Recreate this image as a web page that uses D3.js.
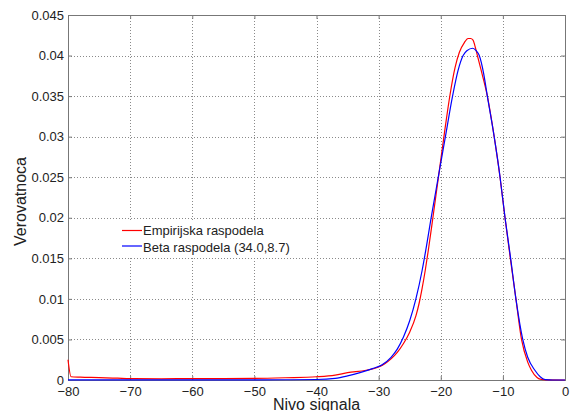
<!DOCTYPE html>
<html>
<head>
<meta charset="utf-8">
<script src="https://cdn.jsdelivr.net/npm/d3@7/dist/d3.min.js"></script>
<style>
  body { margin: 0; background: #fff; }
  svg text { font-family: "Liberation Sans", Arial, Helvetica, sans-serif; fill: #222; }
</style>
</head>
<body>
<div id="viz"></div>
<script>
var empX = [-80, -79.5, -78, -75, -72, -70, -65, -60, -55, -50, -45, -40, -37, -35, -32, -30, -29, -28, -27, -26, -25, -24, -23.5, -23, -22.5, -22, -21.5, -21, -20.25, -19.4, -18.5, -17.7, -17, -16.2, -15.6, -15.2, -14.8, -14.5, -14.1, -13.3, -12.5, -11.4, -10.46, -9.66, -8.8, -7.9, -7, -6, -5.4, -4.5, -4, -3, 0];
var empY = [0.0025, 0.0004, 0.00035, 0.0003, 0.00022, 0.00016, 0.00015, 0.00018, 0.00018, 0.0002, 0.00028, 0.0004, 0.0006, 0.0009, 0.0012, 0.0016, 0.002, 0.0026, 0.0034, 0.0045, 0.0059, 0.0079, 0.0094, 0.0113, 0.0135, 0.016, 0.0187, 0.0215, 0.0257, 0.0305, 0.0352, 0.0385, 0.0404, 0.0416, 0.0421, 0.0421, 0.0419, 0.0412, 0.04, 0.0376, 0.035, 0.03, 0.025, 0.02, 0.015, 0.01, 0.005, 0.0022, 0.0012, 0.0003, 0.0001, 0.00002, 0];

// beta fit (blue)
var betaX = [-80, -70, -60, -50, -45, -40, -37, -35, -33, -31, -29.5, -28, -27, -26, -25, -24, -23, -22.5, -21.5, -20.4, -19.25, -18.1, -17.2, -16.4, -15.8, -14.85, -14.3, -13.8, -13.1, -12.5, -11.4, -10.45, -9.65, -8.75, -7.9, -6.8, -6, -4.85, -4, -3.2, -2, 0];
var betaY = [0.00001, 0.00001, 0.00001, 0.00002, 0.00003, 0.00006, 0.0002, 0.0005, 0.0009, 0.0014, 0.00185, 0.0028, 0.0038, 0.0053, 0.0073, 0.01, 0.0135, 0.0156, 0.0202, 0.025, 0.03, 0.035, 0.0382, 0.04, 0.0406, 0.0409, 0.0406, 0.04, 0.0378, 0.035, 0.03, 0.025, 0.02, 0.015, 0.01, 0.005, 0.0028, 0.0012, 0.0004, 0.00005, 0, 0];

var xTicks = [-80, -70, -60, -50, -40, -30, -20, -10, 0];
var yTicks = [0, 0.005, 0.01, 0.015, 0.02, 0.025, 0.03, 0.035, 0.04, 0.045];
var yTickLabels = ['0', '0.005', '0.01', '0.015', '0.02', '0.025', '0.03', '0.035', '0.04', '0.045'];

var seriesNames = ['Empirijska raspodela', 'Beta raspodela (34.0,8.7)'];
var seriesColors = ['#ff0000', '#0000ff'];

var margin = {top: 15, right: 5, bottom: 31, left: 68},
    W = 570, H = 411,
    width = W - margin.left - margin.right,
    height = H - margin.top - margin.bottom;

var x = d3.scaleLinear().domain([-80, 0]).range([0, width]);
var y = d3.scaleLinear().domain([0, 0.045]).range([height, 0]);

var svg = d3.select('#viz').append('svg')
    .attr('width', W)
    .attr('height', H);

var g = svg.append('g')
    .attr('transform', 'translate(' + margin.left + ',' + margin.top + ')');

// grid
g.append('g').selectAll('line').data(xTicks.slice(1, -1))
  .enter().append('line')
    .attr('x1', function(d) { return Math.round(x(d)) + 0.5; })
    .attr('x2', function(d) { return Math.round(x(d)) + 0.5; })
    .attr('y1', 0).attr('y2', height)
    .attr('stroke', '#8a8a8a').attr('stroke-dasharray', '1,2');

g.append('g').selectAll('line').data(yTicks.slice(1, -1))
  .enter().append('line')
    .attr('y1', function(d) { return Math.round(y(d)) + 0.5; })
    .attr('y2', function(d) { return Math.round(y(d)) + 0.5; })
    .attr('x1', 0).attr('x2', width)
    .attr('stroke', '#8a8a8a').attr('stroke-dasharray', '1,2');

// axes
var xAxis = d3.axisBottom(x).tickValues(xTicks).tickSize(-4).tickPadding(7)
    .tickFormat(d3.format('d'));
var yAxis = d3.axisLeft(y).tickValues(yTicks).tickSize(-4).tickPadding(4)
    .tickFormat(function(d, i) { return yTickLabels[i]; });

var xg = g.append('g')
    .attr('transform', 'translate(0,' + height + ')')
    .call(xAxis);
var yg = g.append('g').call(yAxis);

// top / right ticks
g.append('g')
    .call(d3.axisTop(x).tickValues(xTicks).tickSize(-4).tickFormat(''));
g.append('g')
    .attr('transform', 'translate(' + width + ',0)')
    .call(d3.axisRight(y).tickValues(yTicks).tickSize(-4).tickFormat(''));

svg.selectAll('.domain, .tick line').attr('stroke', '#777');
svg.selectAll('.tick text').attr('font-size', 13).style('fill', '#222')
   .attr('font-family', '"Liberation Sans", Arial, sans-serif');

g.append('rect')
    .attr('x', 0.5).attr('y', 0.5)
    .attr('width', width).attr('height', height)
    .attr('fill', 'none').attr('stroke', '#777');

// curves
var line = d3.line()
    .x(function(d) { return x(d[0]); })
    .y(function(d) { return y(d[1]); })
    .curve(d3.curveMonotoneX);

var emp = d3.zip(empX, empY);
var beta = d3.zip(betaX, betaY);

g.append('path').datum(emp)
    .attr('d', line)
    .attr('fill', 'none')
    .attr('stroke', seriesColors[0])
    .attr('stroke-width', 1.2);

g.append('path').datum(beta)
    .attr('d', line)
    .attr('fill', 'none')
    .attr('stroke', seriesColors[1])
    .attr('stroke-width', 1.2);

// legend
var legend = svg.append('g').attr('transform', 'translate(118,220)');
legend.append('rect')
    .attr('width', 184).attr('height', 37)
    .attr('fill', '#fff');

legend.selectAll('line.key').data(seriesNames)
  .enter().append('line')
    .attr('class', 'key')
    .attr('x1', 4).attr('x2', 24)
    .attr('y1', function(d, i) { return 10.5 + i * 15.5; })
    .attr('y2', function(d, i) { return 10.5 + i * 15.5; })
    .attr('stroke', function(d, i) { return seriesColors[i]; })
    .attr('stroke-width', 1.2);

legend.selectAll('text').data(seriesNames)
  .enter().append('text')
    .attr('x', 25)
    .attr('y', function(d, i) { return 15 + i * 16.5; })
    .attr('font-size', 13)
    .text(function(d) { return d; });

// axis labels
svg.append('text')
    .attr('x', margin.left + width / 2)
    .attr('y', 410)
    .attr('text-anchor', 'middle')
    .attr('font-size', 16)
    .text('Nivo signala');

svg.append('text')
    .attr('transform', 'translate(26,' + (margin.top + height / 2 + 4) + ') rotate(-90)')
    .attr('text-anchor', 'middle')
    .attr('font-size', 16)
    .text('Verovatnoca');
</script>
</body>
</html>
